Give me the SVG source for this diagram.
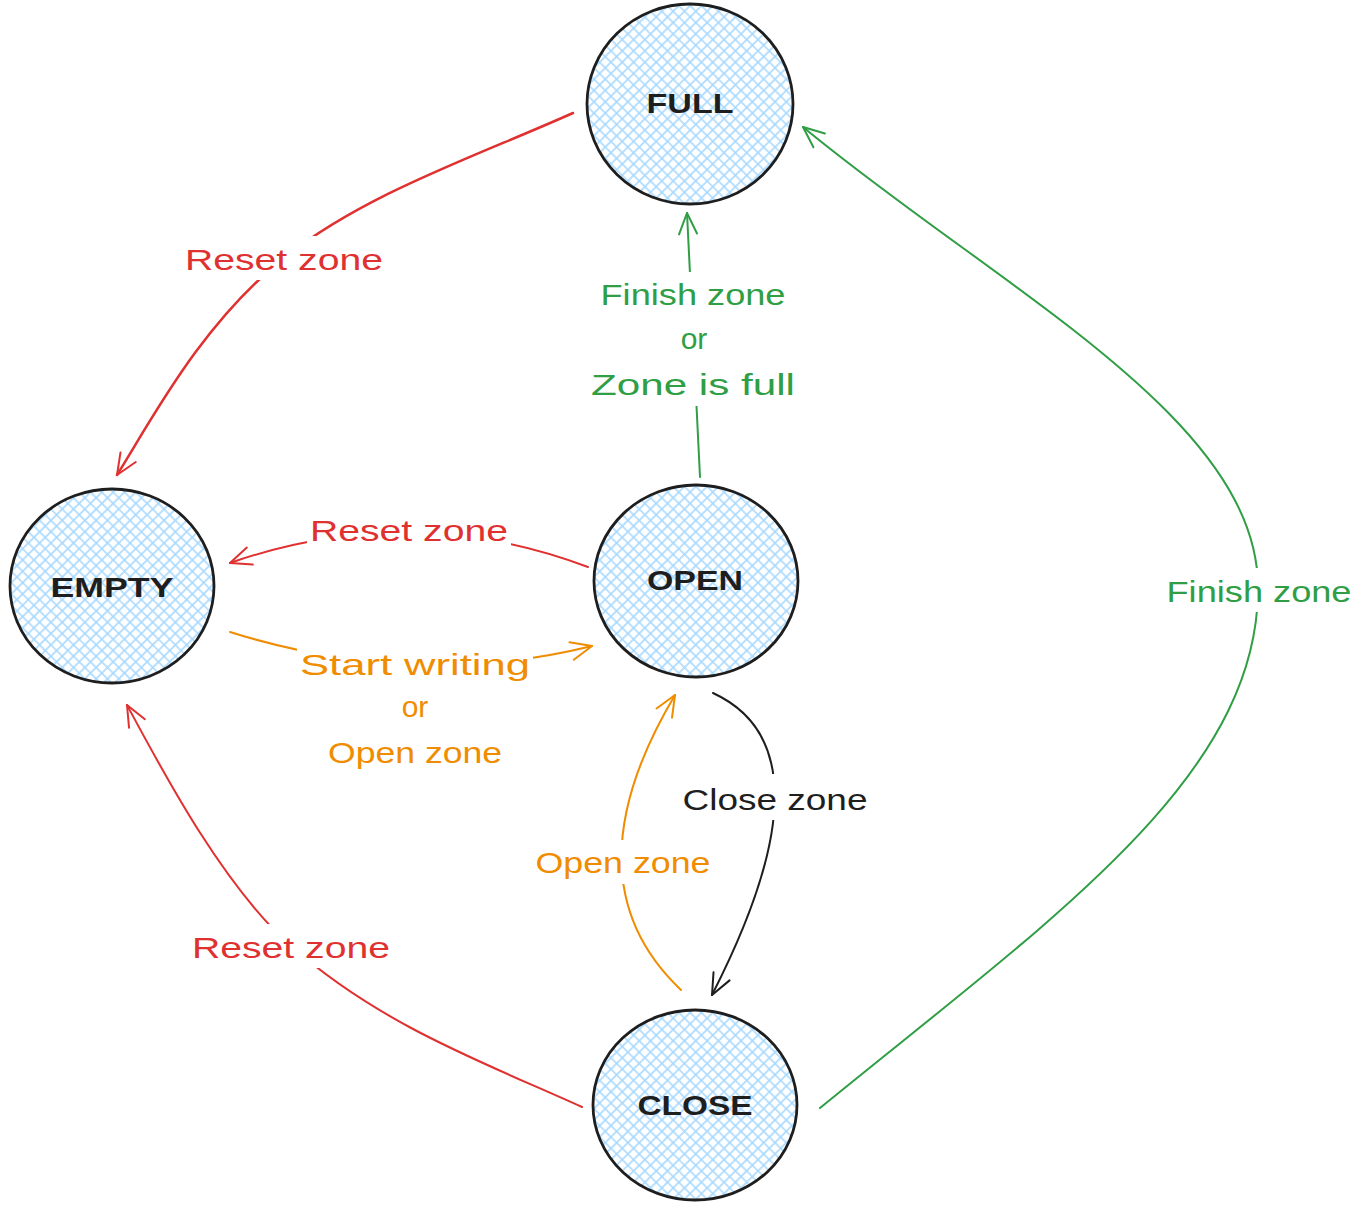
<svg xmlns="http://www.w3.org/2000/svg" width="1362" height="1210" viewBox="0 0 1362 1210">
<defs>
<pattern id="hatch" width="8" height="8" patternUnits="userSpaceOnUse" patternTransform="rotate(45)">
<path d="M0,4 H8 M4,0 V8" stroke="#a5d8ff" stroke-width="1.6" fill="none"/>
</pattern>
<marker id="arR" markerUnits="userSpaceOnUse" markerWidth="26" markerHeight="22" viewBox="0 0 26 22" refX="24" refY="11" orient="auto"><path d="M3,2 L24,11 L3,20" fill="none" stroke="#e03131" stroke-width="2" stroke-linecap="round" stroke-linejoin="round"/></marker>
<marker id="arG" markerUnits="userSpaceOnUse" markerWidth="26" markerHeight="22" viewBox="0 0 26 22" refX="24" refY="11" orient="auto"><path d="M3,2 L24,11 L3,20" fill="none" stroke="#2f9e44" stroke-width="2" stroke-linecap="round" stroke-linejoin="round"/></marker>
<marker id="arO" markerUnits="userSpaceOnUse" markerWidth="26" markerHeight="22" viewBox="0 0 26 22" refX="24" refY="11" orient="auto"><path d="M3,2 L24,11 L3,20" fill="none" stroke="#f08c00" stroke-width="2" stroke-linecap="round" stroke-linejoin="round"/></marker>
<marker id="arK" markerUnits="userSpaceOnUse" markerWidth="26" markerHeight="22" viewBox="0 0 26 22" refX="24" refY="11" orient="auto"><path d="M3,2 L24,11 L3,20" fill="none" stroke="#1e1e1e" stroke-width="2" stroke-linecap="round" stroke-linejoin="round"/></marker>
</defs>
<style>
.node{fill:url(#hatch);stroke:#1e1e1e;stroke-width:2.8}
.nlabel{font-family:"Liberation Sans",sans-serif;font-size:28px;font-weight:bold;fill:#1e1e1e;text-anchor:middle}
.edge{fill:none;stroke-width:2;stroke-linecap:round}
.elabel{font-family:"Liberation Sans",sans-serif;font-size:30px;text-anchor:middle}
.bg{fill:#ffffff}
.red{stroke:#e03131}.green{stroke:#2f9e44}.orange{stroke:#f08c00}.black{stroke:#1e1e1e}
.tred{fill:#e03131}.tgreen{fill:#2f9e44}.torange{fill:#f08c00}.tblack{fill:#1e1e1e}
</style>
<rect width="1362" height="1210" fill="#ffffff"/>
<g id="connectors">
<path class="edge red" style="stroke-width:2.5" d="M573,113 C477,156 366,193 284,258 C202,323 152,419 117,475" marker-end="url(#arR)"/>
<path class="edge red" d="M588,567 Q410,500 230,563" marker-end="url(#arR)"/>
<path class="edge orange" d="M230,632 Q415,690 592,646" marker-end="url(#arO)"/>
<path class="edge green" d="M700,477 L687,213" marker-end="url(#arG)"/>
<path class="edge black" d="M713,693 Q837,750 712,995" marker-end="url(#arK)"/>
<path class="edge orange" d="M681,990 Q565,880 675,695" marker-end="url(#arO)"/>
<path class="edge red" d="M582,1107 C485,1063 382,1026 291,946 C223,886 162,770 127,705" marker-end="url(#arR)"/>
<path class="edge green" d="M820,1108 C1050,920 1255,780 1258,592 C1262,420 1000,290 803,127" marker-end="url(#arG)"/>
<g id="edge-labels">
<rect class="bg" x="182" y="236" width="204" height="44"/>
<text class="elabel tred" x="284" y="270" textLength="198" lengthAdjust="spacingAndGlyphs">Reset zone</text>
<rect class="bg" x="307" y="507" width="204" height="44"/>
<text class="elabel tred" x="409" y="541" textLength="198" lengthAdjust="spacingAndGlyphs">Reset zone</text>
<rect class="bg" x="297" y="640" width="236" height="134"/>
<text class="elabel torange" x="415" y="675" textLength="230" lengthAdjust="spacingAndGlyphs">Start writing</text>
<text class="elabel torange" x="415" y="717">or</text>
<text class="elabel torange" x="415" y="763" textLength="174" lengthAdjust="spacingAndGlyphs">Open zone</text>
<rect class="bg" x="586" y="272" width="214" height="134"/>
<text class="elabel tgreen" x="693" y="305" textLength="185" lengthAdjust="spacingAndGlyphs">Finish zone</text>
<text class="elabel tgreen" x="694" y="349">or</text>
<text class="elabel tgreen" x="693" y="395" textLength="204" lengthAdjust="spacingAndGlyphs">Zone is full</text>
<rect class="bg" x="680" y="774" width="192" height="46"/>
<text class="elabel tblack" x="775" y="810" textLength="185" lengthAdjust="spacingAndGlyphs">Close zone</text>
<rect class="bg" x="533" y="840" width="181" height="44"/>
<text class="elabel torange" x="623" y="873" textLength="175" lengthAdjust="spacingAndGlyphs">Open zone</text>
<rect class="bg" x="189" y="924" width="204" height="44"/>
<text class="elabel tred" x="291" y="958" textLength="198" lengthAdjust="spacingAndGlyphs">Reset zone</text>
<rect class="bg" x="1164" y="568" width="191" height="44"/>
<text class="elabel tgreen" x="1259" y="602" textLength="185" lengthAdjust="spacingAndGlyphs">Finish zone</text>
</g>
</g>
<g id="node-full">
<ellipse class="node" cx="690" cy="104" rx="103" ry="100"/>
<text class="nlabel" x="690" y="113" textLength="87" lengthAdjust="spacingAndGlyphs">FULL</text>
</g>
<g id="node-empty">
<ellipse class="node" cx="112" cy="586" rx="102" ry="97"/>
<text class="nlabel" x="112" y="597" textLength="123" lengthAdjust="spacingAndGlyphs">EMPTY</text>
</g>
<g id="node-open">
<ellipse class="node" cx="696" cy="581" rx="102" ry="96"/>
<text class="nlabel" x="695" y="590" textLength="96" lengthAdjust="spacingAndGlyphs">OPEN</text>
</g>
<g id="node-close">
<ellipse class="node" cx="695" cy="1105" rx="102" ry="95"/>
<text class="nlabel" x="695" y="1115" textLength="115" lengthAdjust="spacingAndGlyphs">CLOSE</text>
</g>
</svg>
